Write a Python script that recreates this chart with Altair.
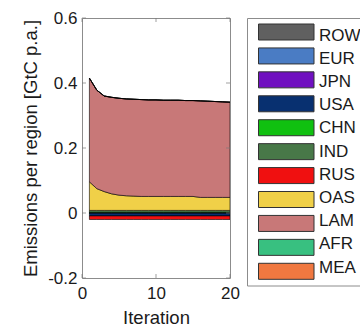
import altair as alt
import pandas as pd

regions = ["ROW", "EUR", "JPN", "USA", "CHN", "IND", "RUS", "OAS", "LAM", "AFR", "MEA"]
colors = ["#606060", "#4a7cc4", "#7010c0", "#083070", "#10c010", "#487848",
          "#f01010", "#f0d048", "#c87878", "#38c080", "#f07840"]

iterations = list(range(1, 21))
ROW = [0.0] * 20
EUR = [0.0] * 20
JPN = [0.0] * 20
USA = [-0.009] * 20
CHN = [0.002] * 20
IND = [0.006] * 20
RUS = [-0.011] * 20
OAS = [0.088, 0.067, 0.058, 0.051, 0.047, 0.045, 0.044, 0.043, 0.043, 0.043,
       0.043, 0.043, 0.043, 0.043, 0.043, 0.040, 0.040, 0.040, 0.040, 0.040]
LAM = [0.319, 0.303, 0.294, 0.297, 0.298, 0.298, 0.298, 0.298, 0.297, 0.297,
       0.296, 0.296, 0.296, 0.295, 0.295, 0.297, 0.296, 0.295, 0.294, 0.293]
AFR = [0.0] * 20
MEA = [0.0] * 20

series = {"ROW": ROW, "EUR": EUR, "JPN": JPN, "USA": USA, "CHN": CHN, "IND": IND,
          "RUS": RUS, "OAS": OAS, "LAM": LAM, "AFR": AFR, "MEA": MEA}

y_ticks = [-0.2, 0.0, 0.2, 0.4, 0.6]
x_ticks = [0, 10, 20]

rows = []
for i, r in enumerate(regions):
    for it, v in zip(iterations, series[r]):
        rows.append({"iteration": it, "value": v, "region": r, "idx": i})
df = pd.DataFrame(rows)
leg_df = pd.DataFrame({"region": regions, "idx": list(range(len(regions)))})

FONT = "Liberation Sans"
TXT = "#1a1a1a"
W, H = 148, 260

color_scale = alt.Scale(domain=regions, range=colors)
yscale = alt.Scale(domain=[-0.2, 0.6], nice=False, zero=False)
xscale = alt.Scale(domain=[0, 20], nice=False, zero=False)

x_axis = alt.Axis(values=x_ticks, title="Iteration", ticks=False, tickSize=0, domain=False,
                  grid=False, labelFont=FONT, labelFontSize=17, labelColor=TXT,
                  labelFlush=False, labelOverlap=False,
                  labelPadding=7, titleFont=FONT, titleFontSize=18.5, titleFontWeight="normal",
                  titleColor=TXT, titleBaseline="alphabetic", titleY=45)
y_axis = alt.Axis(values=y_ticks, title="Emissions per region [GtC p.a.]", ticks=False,
                  tickSize=0, domain=False, grid=False, labelFont=FONT, labelFontSize=17,
                  labelColor=TXT, labelPadding=5, labelFlush=False, labelOverlap=False,
                  labelExpr="datum.value == 0 ? '0' : replace(format(datum.value, '.1f'), '\u2212', '-')",
                  titleFont=FONT, titleFontSize=18.5, titleFontWeight="normal", titleColor=TXT,
                  titleAngle=270, titleBaseline="middle", titleAlign="center",
                  titleX=-52, titleY=130)

area = alt.Chart(df).mark_area(stroke="black", strokeWidth=0.6, opacity=1, clip=True).encode(
    x=alt.X("iteration:Q", scale=xscale, axis=x_axis),
    y=alt.Y("value:Q", stack="zero", scale=yscale, axis=y_axis),
    color=alt.Color("region:N", scale=color_scale, legend=None),
    order=alt.Order("idx:Q", sort="ascending"),
)

ytick_df = pd.DataFrame({"value": y_ticks})
xtick_df = pd.DataFrame({"iteration": x_ticks})
tick_style = dict(color="#777777", size=4, thickness=1)
yt_left = alt.Chart(ytick_df).mark_tick(**tick_style).encode(
    y=alt.Y("value:Q", scale=yscale, axis=y_axis), x=alt.value(2))
yt_right = alt.Chart(ytick_df).mark_tick(**tick_style).encode(
    y=alt.Y("value:Q", scale=yscale, axis=y_axis), x=alt.value(W - 2))
xt_bottom = alt.Chart(xtick_df).mark_tick(**tick_style).encode(
    x=alt.X("iteration:Q", scale=xscale, axis=x_axis), y=alt.value(H - 2))
xt_top = alt.Chart(xtick_df).mark_tick(**tick_style).encode(
    x=alt.X("iteration:Q", scale=xscale, axis=x_axis), y=alt.value(2))

plot = alt.layer(area, yt_left, yt_right, xt_bottom, xt_top)

leg_box = alt.Chart(pd.DataFrame({"a": [0]})).mark_rect(
    fill="white", stroke="#8c8c8c", strokeWidth=1, clip=False).encode(
    x=alt.value(165.5), x2=alt.value(420), y=alt.value(0.5), y2=alt.value(268))

leg_y = alt.Y("region:N", sort=regions, axis=None,
              scale=alt.Scale(range=[6, 261.3], paddingInner=0.331, paddingOuter=0))
leg_sw = alt.Chart(leg_df).mark_rect(stroke="#333333", strokeWidth=1, clip=False).encode(
    x=alt.value(176.5), x2=alt.value(232), y=leg_y,
    color=alt.Color("region:N", scale=color_scale, legend=None))
leg_tx = alt.Chart(leg_df).mark_text(align="left", baseline="middle", font=FONT, fontSize=17,
                                     color=TXT, clip=False).encode(
    x=alt.value(237), y=leg_y, text="region:N")

chart = alt.layer(plot, leg_box, leg_sw, leg_tx).resolve_scale(
    y="independent"
).properties(
    width=W, height=H,
    autosize=alt.AutoSizeParams(type="none"),
    padding={"left": 82, "top": 18, "right": 130, "bottom": 49},
    background="white",
).configure_view(stroke="#8c8c8c", strokeWidth=1)

chart.save("out.html", embed_options={"renderer": "svg", "actions": False})
